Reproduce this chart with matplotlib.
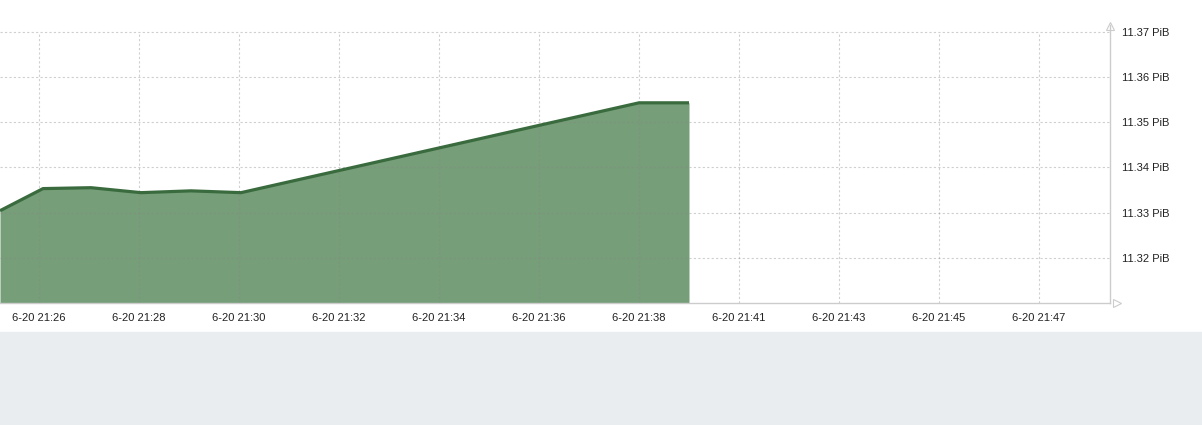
import matplotlib.pyplot as plt
from matplotlib.patches import Rectangle

# Data (x in tick-slot units, one slot per label)
x_pos = [-0.39, 0.04, 0.52, 1.02, 1.52, 2.02, 6.0, 6.5]
used  = [11.3304, 11.3353, 11.3355, 11.3344, 11.3348, 11.3344, 11.3543, 11.3543]  # PiB

tick_labels = ['6-20 21:26', '6-20 21:28', '6-20 21:30', '6-20 21:32', '6-20 21:34',
               '6-20 21:36', '6-20 21:38', '6-20 21:41', '6-20 21:43', '6-20 21:45',
               '6-20 21:47']
y_ticks = [11.32, 11.33, 11.34, 11.35, 11.36, 11.37]

plt.rcParams['font.family'] = ['Liberation Sans', 'DejaVu Sans']

y_min, y_max = 11.30996, 11.3722

fig = plt.figure(figsize=(12.02, 4.25), dpi=100)
fig.patches.append(Rectangle((0, 0), 1, 93/425, transform=fig.transFigure,
                             color='#e9edf0', zorder=0))
ax = fig.add_axes([0, 122/425, 1110/1202, (303-22)/425])

ax.fill_between(x_pos, used, y_min, color='#769e78', lw=0, zorder=1)
ax.plot(x_pos, used, color='#3a6b3e', lw=2.3, zorder=3, solid_capstyle='butt')

ax.set_xlim(-0.39, 10.71)
ax.set_ylim(y_min, y_max)
ax.set_xticks(range(len(tick_labels)))
ax.set_xticklabels(tick_labels, fontsize=8, color='#222222')
ax.set_yticks(y_ticks)
ax.set_yticklabels([f'{v:.2f} PiB' for v in y_ticks], fontsize=8, color='#222222')
ax.yaxis.tick_right()
ax.tick_params(length=0, axis='x', pad=7)
ax.tick_params(length=0, axis='y', pad=9)

# grid: horizontal lines full width, vertical lines only up to the top tick
ax.grid(True, axis='y', ls=(0, (2, 2)), color='#888888', alpha=0.4, lw=0.8, zorder=2)
ax.vlines(range(len(tick_labels)), y_min, y_ticks[-1], colors='#888888', alpha=0.4,
          linestyles=(0, (2, 2)), lw=0.8, zorder=2)
ax.set_axisbelow(False)
for s in ['top', 'left']:
    ax.spines[s].set_visible(False)
for s in ['bottom', 'right']:
    ax.spines[s].set_color('#cccccc')
    ax.spines[s].set_linewidth(1)
ax.spines['right'].set_bounds(y_min, 11.3715)

# small arrow heads at the axis ends
ax.plot([1.0], [0.985], marker='^', ms=6, mfc='white', mec='#cccccc', mew=0.8,
        transform=ax.transAxes, clip_on=False)
ax.plot([1.006], [0.0], marker='>', ms=6, mfc='white', mec='#cccccc', mew=0.8,
        transform=ax.transAxes, clip_on=False)

fig.savefig('out.png', dpi=100)
